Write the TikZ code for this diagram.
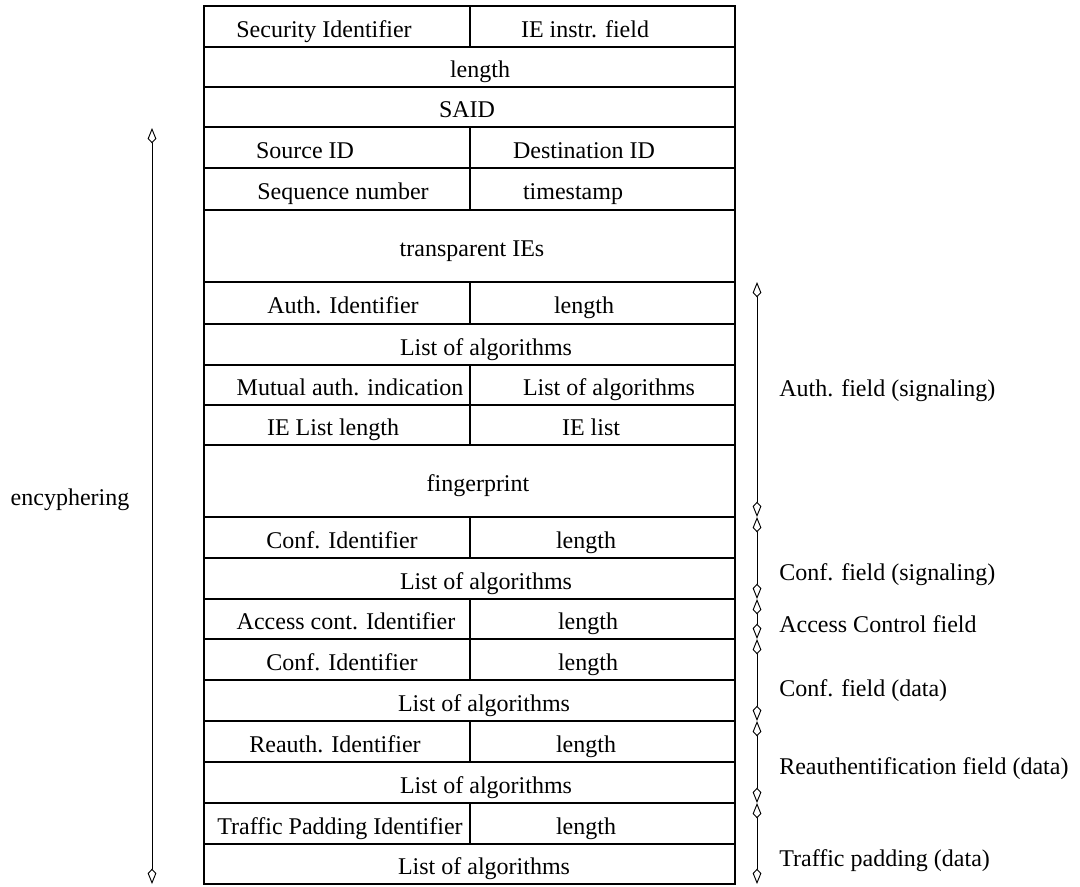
\documentclass[tikz,border=0pt]{standalone}
\usepackage{fontspec}
\setmainfont{Liberation Serif}
\usetikzlibrary{arrows.meta}
\begin{document}
\begin{tikzpicture}[x=0.75pt, y=-0.75pt,
  txt/.style={font=\fontsize{18}{21}\selectfont},
  celltext/.style={txt, inner sep=0pt, text height=18.5pt, text depth=2.5pt},
  cell/.style={celltext, draw, line width=1.1pt, rectangle},
  spanarrow/.style={line width=0.7pt, {Kite[open, length=11.5pt, width=6.5pt, inset=3.5pt]}-{Kite[open, length=11.5pt, width=6.5pt, inset=3.5pt]}},
  lbl/.style={txt, anchor=west, inner sep=0pt}]
\useasboundingbox (0,0) rectangle (1080,886);
% one full-width row: name, top, bottom, text x, text
\newcommand\fullrow[5]{%
  \node[cell, minimum width=398.25pt, minimum height={(#3-#2)*0.75pt}] (#1) at (469.5,{(#2+#3)/2}) {};
  \node[celltext] (#1t) at (#4,{(#2+#3)/2}) {#5};}
% a row split in two cells: name, top, bottom, left text x, left text, right text x, right text
\newcommand\splitrow[7]{%
  \node[cell, minimum width=199.5pt, minimum height={(#3-#2)*0.75pt}] (#1l) at (337,{(#2+#3)/2}) {};
  \node[cell, minimum width=198.75pt, minimum height={(#3-#2)*0.75pt}] (#1r) at (602.5,{(#2+#3)/2}) {};
  \node[celltext] (#1lt) at (#4,{(#2+#3)/2}) {#5};
  \node[celltext] (#1rt) at (#6,{(#2+#3)/2}) {#7};}

\splitrow{r1}{6}{47}{324}{Security Identifier}{585}{IE instr. field}
\fullrow{r2}{47}{87}{480}{length}
\fullrow{r3}{87}{127}{467}{SAID}
\splitrow{r4}{127}{168}{305}{Source ID}{584}{Destination ID}
\splitrow{r5}{168}{210}{343}{Sequence number}{573}{timestamp}
\fullrow{r6}{210}{282}{472}{transparent IEs}
\splitrow{r7}{282}{324}{343}{Auth. Identifier}{584}{length}
\fullrow{r8}{324}{365}{486}{List of algorithms}
\splitrow{r9}{365}{405}{350}{Mutual auth. indication}{609}{List of algorithms}
\splitrow{r10}{405}{445}{333}{IE List length}{591}{IE list}
\fullrow{r11}{445}{517}{478}{fingerprint}
\splitrow{r12}{517}{558}{342}{Conf. Identifier}{586}{length}
\fullrow{r13}{558}{599}{486}{List of algorithms}
\splitrow{r14}{599}{639}{346}{Access cont. Identifier}{588}{length}
\splitrow{r15}{639}{680}{342}{Conf. Identifier}{588}{length}
\fullrow{r16}{680}{721}{484}{List of algorithms}
\splitrow{r17}{721}{762}{335}{Reauth. Identifier}{586}{length}
\fullrow{r18}{762}{803}{486}{List of algorithms}
\splitrow{r19}{803}{844}{340}{Traffic Padding Identifier}{586}{length}
\fullrow{r20}{844}{884}{484}{List of algorithms}

% encyphering span
\coordinate (e0) at (152,128);
\coordinate (e1) at (152,884);
\draw[spanarrow] (e0) -- (e1);
\node[txt, inner sep=0pt] (enc) at (70,500) {encyphering};

% field spans on the right
\coordinate (a0) at (757,282);
\coordinate (a1) at (757,517);
\coordinate (a2) at (757,599);
\coordinate (a3) at (757,639);
\coordinate (a4) at (757,721);
\coordinate (a5) at (757,803);
\coordinate (a6) at (757,884);
\draw[spanarrow] (a0) -- (a1);
\draw[spanarrow] (a1) -- (a2);
\draw[spanarrow] (a2) -- (a3);
\draw[spanarrow] (a3) -- (a4);
\draw[spanarrow] (a4) -- (a5);
\draw[spanarrow] (a5) -- (a6);

\node[lbl] (l1) at (779,391) {Auth. field (signaling)};
\node[lbl] (l2) at (779,575) {Conf. field (signaling)};
\node[lbl] (l3) at (779,624) {Access Control field};
\node[lbl] (l4) at (779,691) {Conf. field (data)};
\node[lbl] (l5) at (779,769) {Reauthentification field (data)};
\node[lbl] (l6) at (779,861) {Traffic padding (data)};
\end{tikzpicture}
\end{document}
